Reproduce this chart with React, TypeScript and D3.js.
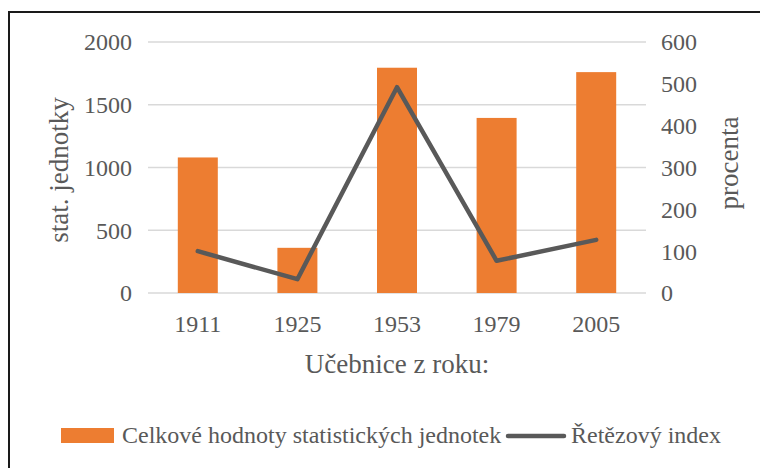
import React from "react";
import * as d3 from "d3";

const categories = ["1911", "1925", "1953", "1979", "2005"];
const totals = [1080, 360, 1795, 1395, 1760];
const chainIndex = [100, 33, 492, 77, 127];
const leftTicks = [0, 500, 1000, 1500, 2000];
const rightTicks = [0, 100, 200, 300, 400, 500, 600];
const barLabel = "Celkové hodnoty statistických jednotek";
const lineLabel = "Řetězový index";
const xTitle = "Učebnice z roku:";
const yLeftTitle = "stat. jednotky";
const yRightTitle = "procenta";

const W = 760;
const H = 468;
const FONT = "'Liberation Serif', 'Times New Roman', serif";
const TXT = "#595959";
const ORANGE = "#ED7D31";
const LINE = "#595959";
const GRID = "#D9D9D9";

export default function App() {
  const plot = { left: 148, right: 646, top: 42, bottom: 293 };
  const x = d3.scaleBand<string>().domain(categories).range([plot.left, plot.right]).paddingInner(0.6).paddingOuter(0.3);
  const xc = d3.scaleBand<string>().domain(categories).range([plot.left, plot.right]);
  const yL = d3.scaleLinear().domain([0, 2000]).range([plot.bottom, plot.top]);
  const yR = d3.scaleLinear().domain([0, 600]).range([plot.bottom, plot.top]);
  const center = (c: string) => (xc(c) as number) + xc.bandwidth() / 2;
  const barW = 40;
  const lineGen = d3
    .line<number>()
    .x((_, i) => center(categories[i]))
    .y((d) => yR(d));

  return (
    <svg
      width={W}
      height={H}
      style={{ position: "fixed", left: 0, top: 0, display: "block", background: "#fff" }}
      fontFamily={FONT}
    >
      <rect x={0} y={0} width={W} height={H} fill="#fff" />
      <rect x={9} y={12} width={W + 20} height={H + 20} fill="none" stroke="#1a1a1a" strokeWidth={2} />
      {leftTicks.map((t) => (
        <line key={"g" + t} x1={plot.left} x2={plot.right} y1={yL(t)} y2={yL(t)} stroke={GRID} strokeWidth={1.5} />
      ))}
      {leftTicks.map((t) => (
        <text key={"l" + t} x={132} y={yL(t)} dy="0.35em" textAnchor="end" fontSize={24} fill={TXT}>
          {t}
        </text>
      ))}
      {rightTicks.map((t) => (
        <text key={"r" + t} x={661} y={yR(t)} dy="0.35em" textAnchor="start" fontSize={24} fill={TXT}>
          {t}
        </text>
      ))}
      {categories.map((c, i) => (
        <rect
          key={"b" + c}
          x={center(c) - barW / 2}
          y={yL(totals[i])}
          width={barW}
          height={plot.bottom - yL(totals[i])}
          fill={ORANGE}
        />
      ))}
      <path d={lineGen(chainIndex) || ""} fill="none" stroke={LINE} strokeWidth={4.5} strokeLinejoin="round" strokeLinecap="round" />
      {categories.map((c) => (
        <text key={"x" + c} x={center(c)} y={332} textAnchor="middle" fontSize={24} fill={TXT}>
          {c}
        </text>
      ))}
      <text x={(plot.left + plot.right) / 2} y={373} textAnchor="middle" fontSize={27} fill={TXT}>
        {xTitle}
      </text>
      <text
        transform={`translate(59,170) rotate(-90)`}
        textAnchor="middle"
        dominantBaseline="central"
        fontSize={27}
        fill={TXT}
      >
        {yLeftTitle}
      </text>
      <text
        transform={`translate(729,163) rotate(-90)`}
        textAnchor="middle"
        dominantBaseline="central"
        fontSize={27}
        fill={TXT}
      >
        {yRightTitle}
      </text>
      <rect x={61} y={428} width={53} height={15} fill={ORANGE} />
      <text x={122} y={443} fontSize={24} fill={TXT}>
        {barLabel}
      </text>
      <line x1={508} x2={564} y1={436} y2={436} stroke={LINE} strokeWidth={4.5} strokeLinecap="round" />
      <text x={571} y={443} fontSize={24} fill={TXT}>
        {lineLabel}
      </text>
    </svg>
  );
}
